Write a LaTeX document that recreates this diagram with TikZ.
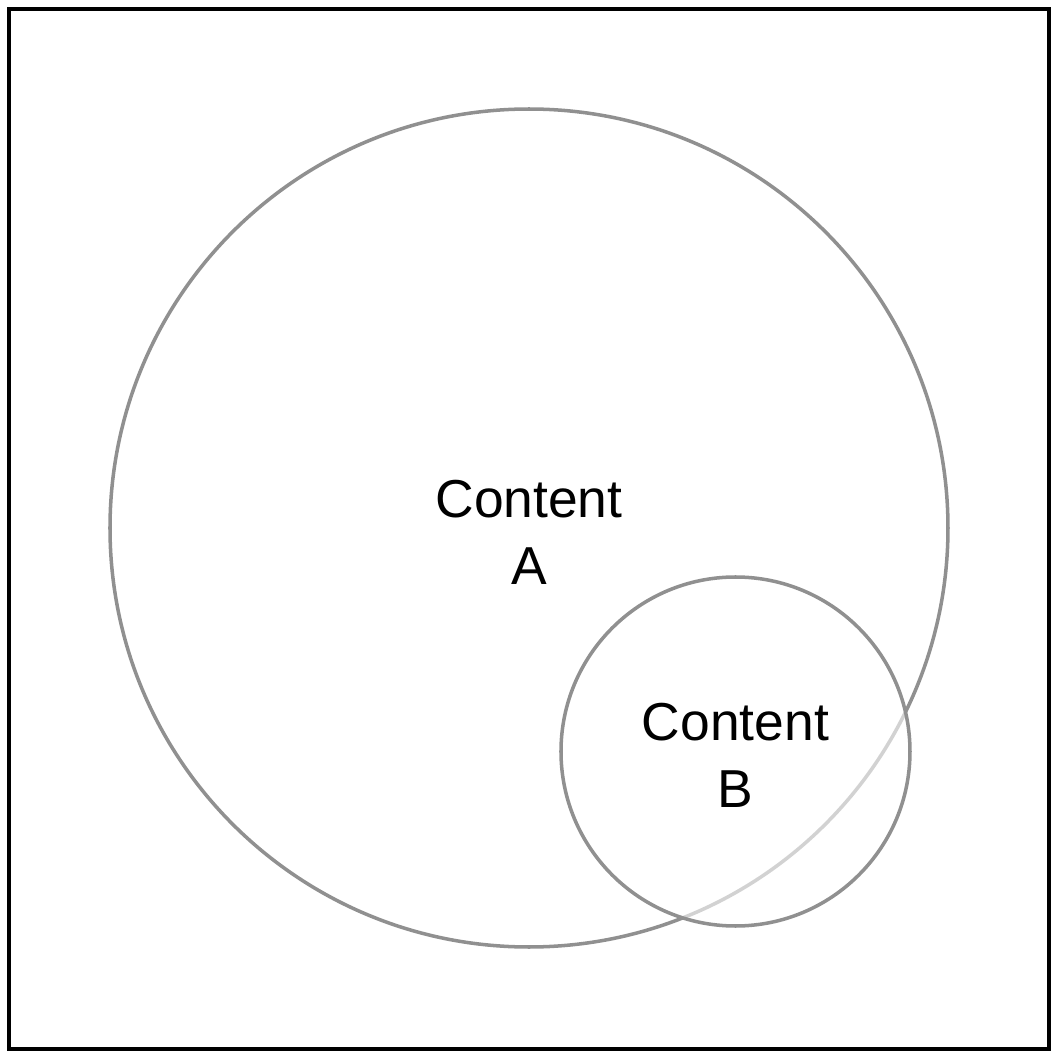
\documentclass[tikz,border=0pt]{standalone}
\usepackage{fontspec}
\setmainfont{Liberation Sans}
\usepackage{xcolor}
\usepackage{tikz}
\usetikzlibrary{positioning}
\definecolor{setgray}{HTML}{909090}

\begin{document}
\begin{tikzpicture}[
  font=\fontsize{15.2pt}{19pt}\selectfont,
  setcirc/.style={draw=setgray, line width=1pt, circle, inner sep=0pt},
  setlab/.style={align=center, inner sep=0pt},
  frame/.style={draw=black, line width=1.1pt},
]
\useasboundingbox (0,0) rectangle (10.58,10.58);
% ---- outer frame ----
\draw[frame] (0.09,0.09) rectangle (10.49,10.49);
% ---- the two sets ----
\node[setcirc, minimum size=8.38cm] (setA) at (5.29,5.30) {};
\node[setlab] (labA) at (5.29,5.26) {Content\\A};
\node[setcirc, minimum size=3.49cm, fill=white, fill opacity=0.6]
  (setB) at (7.355,3.065) {};
\node[setlab] (labB) at (7.355,3.03) {Content\\B};
\end{tikzpicture}
\end{document}
